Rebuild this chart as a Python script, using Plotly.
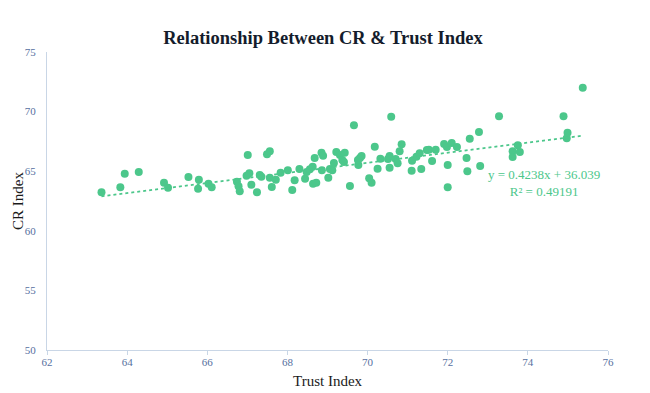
import plotly.graph_objects as go

trust_index = [63.36, 63.83, 63.94, 64.29, 64.92, 65.02, 65.53, 65.79, 65.77, 66.03,
               66.11, 66.74, 66.78, 66.81, 67.01, 66.98, 67.05, 67.10, 67.24, 67.31,
               67.49, 67.56, 67.35, 67.56, 67.61, 67.71, 67.83, 68.01, 68.12, 68.18,
               68.30, 68.44, 68.48, 68.56, 68.63, 68.64, 68.72, 68.68, 68.85, 68.89,
               68.86, 69.02, 69.06, 69.12, 69.16, 69.22, 69.31, 69.37, 69.41, 69.43,
               69.56, 69.66, 69.76, 69.81, 69.85, 69.77, 70.04, 70.10, 70.18, 70.25,
               70.32, 70.51, 70.55, 70.55, 70.59, 70.70, 70.75, 70.80, 70.85, 71.11,
               71.10, 71.22, 71.30, 71.34, 71.48, 71.53, 71.70, 71.61, 71.91, 71.98,
               72.10, 72.23, 72.00, 72.00, 72.47, 72.49, 72.55, 72.78, 72.81, 73.28,
               73.62, 73.75, 73.80, 73.62, 74.89, 74.99, 74.97, 75.37]
cr_index = [63.23, 63.65, 64.79, 64.93, 64.04, 63.62, 64.51, 64.29, 63.53, 63.95,
            63.65, 64.12, 63.73, 63.31, 66.36, 64.62, 64.82, 63.87, 63.23, 64.68,
            66.42, 66.67, 64.54, 64.45, 63.67, 64.29, 64.87, 65.08, 63.42, 64.24,
            65.18, 64.37, 64.93, 65.16, 65.38, 63.95, 64.04, 66.11, 66.55, 66.30,
            65.08, 64.45, 65.18, 65.08, 65.69, 66.61, 66.36, 65.94, 65.77, 66.55,
            63.76, 68.85, 65.94, 66.11, 66.28, 65.52, 64.40, 64.04, 67.06, 65.21,
            66.05, 66.02, 66.28, 65.29, 69.57, 66.02, 65.66, 66.67, 67.26, 65.88,
            65.04, 66.22, 66.50, 65.18, 66.78, 66.80, 66.80, 65.86, 67.28, 67.03,
            67.37, 67.03, 65.52, 63.65, 66.11, 64.99, 67.73, 68.29, 65.44, 69.61,
            66.67, 67.17, 66.61, 66.19, 69.61, 68.23, 67.76, 72.01]

trend_slope = 0.4238
trend_intercept = 36.039
r_squared = 0.49191

x_ticks = [62, 64, 66, 68, 70, 72, 74, 76]
y_ticks = [50, 55, 60, 65, 70, 75]

green = "#4cc78b"
serif = "Liberation Serif, Georgia, serif"
tick_color = "#5670a0"
axis_color = "#c9d6e6"
label_color = "#1a1a1a"

x_min, x_max = min(trust_index), max(trust_index)
trend_x = [x_min, x_max]
trend_y = [trend_slope * v + trend_intercept for v in trend_x]

fig = go.Figure()
fig.add_trace(go.Scatter(
    x=trust_index, y=cr_index, mode="markers",
    marker=dict(color=green, size=8, line=dict(width=0)),
    showlegend=False, hoverinfo="x+y"))
fig.add_trace(go.Scatter(
    x=trend_x, y=trend_y, mode="lines",
    line=dict(color=green, width=1.8, dash="dot"),
    showlegend=False, hoverinfo="skip"))

fig.add_annotation(
    x=74.4, y=64.0, xref="x", yref="y",
    text=f"y = {trend_slope}x + {trend_intercept}<br>R² = {r_squared}",
    showarrow=False, align="center",
    font=dict(family=serif, size=13, color=green))

# axis titles
fig.add_annotation(
    x=0.5, y=0, xref="paper", yref="paper", yshift=-31,
    xanchor="center", yanchor="middle", showarrow=False,
    text="Trust Index", font=dict(family=serif, size=15, color=label_color))
fig.add_annotation(
    x=0, y=0.5, xref="paper", yref="paper", xshift=-29,
    xanchor="center", yanchor="middle", showarrow=False, textangle=-90,
    text="CR Index", font=dict(family=serif, size=15, color=label_color))

W, H = 650, 393
fig.update_layout(
    width=W, height=H,
    margin=dict(l=39, r=50, t=44, b=51, autoexpand=False),
    paper_bgcolor="white", plot_bgcolor="white",
    title=dict(text="<b>Relationship Between CR & Trust Index</b>",
               x=315 / W, xanchor="center", y=1 - 30 / H, yref="container",
               yanchor="middle",
               font=dict(family=serif, size=18.5, color="#141c2c")),
    xaxis=dict(range=[62, 76], tickvals=x_ticks, showgrid=False, zeroline=False,
               automargin=False,
               showline=True, linecolor=axis_color, linewidth=1,
               ticks="outside", ticklen=4, tickcolor=axis_color,
               ticklabelstandoff=-2,
               tickfont=dict(family=serif, size=11, color=tick_color)),
    yaxis=dict(range=[50, 75], tickvals=y_ticks, showgrid=False, zeroline=False,
               automargin=False,
               showline=True, linecolor=axis_color, linewidth=1,
               ticks="", ticklabelstandoff=8,
               tickfont=dict(family=serif, size=11, color=tick_color)),
)

fig.write_html("out.html")
